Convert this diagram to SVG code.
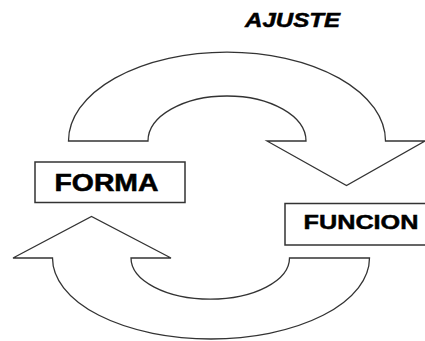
<svg xmlns="http://www.w3.org/2000/svg" width="425" height="341" viewBox="0 0 425 341">
<style>
.shape{fill:#fff;stroke:#333;stroke-width:1.3;stroke-linejoin:miter}
.box{fill:#fff;stroke:#333;stroke-width:1.5}
.lbl{font-family:"Liberation Sans",Arial,sans-serif;font-weight:bold;fill:#000;stroke:#000;stroke-width:0.5}
</style>
<rect width="425" height="341" fill="#fff"/>
<g id="connectors">
<path id="arrow-ajuste" class="shape" d="M 68.5 141 A 158.5 89 0 0 1 385.5 141 L 425 141 L 346.5 185.5 L 267 141 L 306 141 A 79 45 0 0 0 148 141 Z"/>
<path id="arrow-return" class="shape" d="M 52.5 258 A 158.5 81 0 0 0 369.5 258 L 289.5 258 A 79 41 0 0 1 131 258 L 171 258 L 91.5 216.5 L 13 258 Z"/>
</g>
<g id="ajuste">
<text class="lbl" x="245" y="27.3" font-size="19.5" font-style="italic" textLength="95" lengthAdjust="spacingAndGlyphs">AJUSTE</text>
</g>
<g id="forma">
<rect class="box" x="35" y="162" width="150" height="40.5"/>
<text class="lbl" x="54.5" y="190.5" font-size="23" textLength="104" lengthAdjust="spacingAndGlyphs">FORMA</text>
</g>
<g id="funcion">
<rect class="box" x="285" y="203.5" width="150" height="41.5"/>
<text class="lbl" x="303.5" y="229.3" font-size="21" textLength="115" lengthAdjust="spacingAndGlyphs">FUNCION</text>
</g>
</svg>
